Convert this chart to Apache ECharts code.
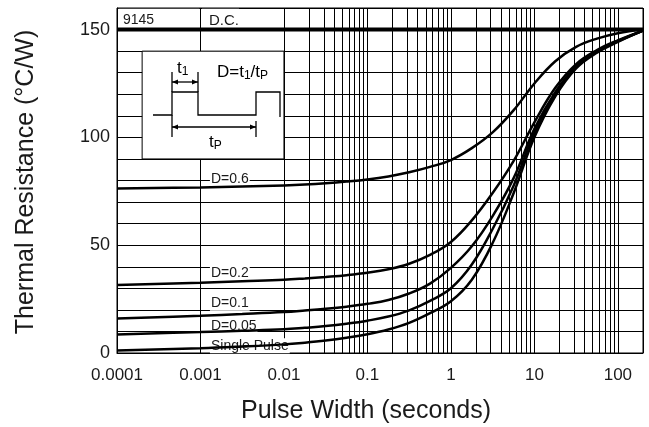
<!DOCTYPE html>
<html><head><meta charset="utf-8">
<script src="https://cdn.jsdelivr.net/npm/echarts@6/dist/echarts.min.js"></script>
<style>html,body{margin:0;padding:0;background:#fff}#c{width:649px;height:427px}</style>
</head><body><div id="c"></div>
<script>
// ---- data ----
const pulseWidth = [0.0001, 0.001, 0.00316, 0.01, 0.0178, 0.0316, 0.0562, 0.1, 0.178, 0.316, 0.562, 1, 1.78, 3.16, 5.62, 10, 17.8, 31.6, 56.2, 100, 200];
const duty06     = [76.3, 76.8, 77.2, 77.7, 78.1, 78.7, 79.5, 80.5, 81.9, 83.8, 86.3, 89.5, 95, 102.3, 112.5, 125, 135.3, 142, 145.8, 148.3, 150];
const duty02     = [31.5, 32.6, 33.3, 34, 34.6, 35.3, 36.1, 37.2, 38.8, 41.4, 45.5, 51.5, 61.5, 74.2, 89, 107, 123, 134, 140.5, 145, 149.5];
const duty01     = [16, 17.3, 18.1, 19, 19.7, 20.5, 21.5, 22.8, 24.6, 27.6, 32.2, 39.5, 49.5, 63.5, 81, 104, 121, 133, 140, 144.7, 149.5];
const duty005    = [8.6, 9.7, 10.3, 11, 11.7, 12.5, 13.6, 15, 16.9, 19.8, 24.2, 30, 41, 57.5, 77.5, 102, 120, 132.5, 139.7, 144.5, 149.5];
const singlePulse= [1.2, 2.2, 3, 4, 4.8, 5.8, 7.1, 8.7, 10.9, 14, 18.5, 24, 34, 51, 74, 100, 119, 132, 139.3, 144.3, 149.5];
const dutyDCx    = [0.0001, 200];
const dutyDC     = [150, 150];
const xDecades   = [0.0001, 0.001, 0.01, 0.1, 1, 10, 100];
const xTickLabels= ['0.0001', '0.001', '0.01', '0.1', '1', '10', '100'];
const yTickLabels= [0, 50, 100, 150];
const minorMult  = [2, 3, 4, 5, 6, 7, 8, 9];
const curveNames = ['D=0.6', 'D=0.2', 'D=0.1', 'D=0.05', 'Single Pulse'];
// annotation anchors (data coordinates)
const labelAnchorX = 0.00128;
const labelAnchorY = [80.6, 37.1, 23.1, 12.4, 3.4];

const FONT = "'Liberation Sans', Arial, Helvetica, sans-serif";
const TXT = '#1a1a1a';

const chart = echarts.init(document.getElementById('c'), null, {renderer: 'canvas'});

const minorLines = [];
xDecades.forEach(d => minorMult.forEach(m => { const v = d * m; if (v < 200) minorLines.push({xAxis: v}); }));

function pairs(xs, ys) { return xs.map((x, i) => [x, ys[i]]); }

const curveSets = [duty06, duty02, duty01, duty005, singlePulse];
const curveSeries = curveSets.map((ys, i) => ({
  type: 'line', name: curveNames[i], data: pairs(pulseWidth, ys),
  symbol: 'none', smooth: 0.4, z: 5,
  lineStyle: {color: '#000', width: 2.5}, silent: true
}));

const sub = {fontSize: 12, fontFamily: FONT, color: TXT, padding: [7, 0, 0, 0]};
const main17 = {fontSize: 17, fontFamily: FONT, color: TXT};

chart.setOption({
  animation: false,
  grid: {left: 117, right: 6, top: 8, bottom: 74, show: true, borderColor: '#000', borderWidth: 1, backgroundColor: '#fff'},
  xAxis: {
    type: 'log', logBase: 10, min: 0.0001, max: 200,
    axisLine: {show: true, lineStyle: {color: '#000', width: 1}},
    axisTick: {show: false},
    splitLine: {show: true, lineStyle: {color: '#000', width: 1}},
    minorTick: {show: false}, minorSplitLine: {show: false},
    axisLabel: {
      margin: 14, fontSize: 17, fontFamily: FONT, color: TXT,
      formatter: v => {
        const idx = xDecades.findIndex(d => Math.abs(Math.log10(v) - Math.log10(d)) < 1e-6);
        return idx >= 0 ? xTickLabels[idx] : '';
      }
    }
  },
  yAxis: {
    type: 'value', min: 0, max: 160, interval: 10,
    axisLine: {show: true, lineStyle: {color: '#000', width: 1}},
    axisTick: {show: false},
    splitLine: {show: true, lineStyle: {color: '#000', width: 1}},
    axisLabel: {
      margin: 7, fontSize: 18, fontFamily: FONT, color: TXT,
      formatter: v => yTickLabels.includes(v) ? String(v) : ''
    }
  },
  series: [
    { // minor vertical grid lines
      type: 'line', data: [[0.0001, -10]], symbol: 'none', lineStyle: {width: 0}, z: 1, silent: true,
      markLine: {silent: true, symbol: ['none', 'none'], label: {show: false}, animation: false,
        lineStyle: {color: '#000', width: 1, type: 'solid'}, data: minorLines}
    },
    { // white boxes (inset frame, top labels)
      type: 'line', data: [[0.0001, -10]], symbol: 'none', lineStyle: {width: 0}, z: 3, silent: true,
      markArea: {silent: true, label: {show: false}, data: [
        [{coord: [0.0002, 90], itemStyle: {color: '#fff', borderColor: '#000', borderWidth: 1}}, {coord: [0.01, 140]}],
        [{coord: [0.000104, 151.4], itemStyle: {color: '#fff', borderWidth: 0}}, {coord: [0.00097, 159.7]}],
        [{coord: [0.00104, 151.4], itemStyle: {color: '#fff', borderWidth: 0}}, {coord: [0.0029, 159.7]}]
      ]}
    },
    { // D.C.
      type: 'line', name: 'D.C.', data: pairs(dutyDCx, dutyDC), symbol: 'none', z: 5, silent: true,
      lineStyle: {color: '#000', width: 4}
    },
    ...curveSeries,
    { // curve labels
      type: 'line', data: [[0.0001, -10]], symbol: 'none', lineStyle: {width: 0}, z: 8, silent: true,
      markPoint: {silent: true, symbol: 'circle', symbolSize: 1, itemStyle: {color: 'rgba(0,0,0,0)'},
        data: curveNames.map((n, i) => ({
          coord: [labelAnchorX, labelAnchorY[i]],
          label: {show: true, position: 'right', distance: 0, formatter: n, fontSize: 14, fontFamily: FONT,
            color: TXT, backgroundColor: '#fff', padding: [1, 1, 0, 1]}
        }))}
    }
  ],
  graphic: [
    {type: 'text', x: 123, y: 20, z: 100, style: {text: '9145', fontSize: 14, fontFamily: FONT, fill: TXT, verticalAlign: 'middle'}},
    {type: 'text', x: 209, y: 21, z: 100, style: {text: 'D.C.', fontSize: 15, fontFamily: FONT, fill: TXT, verticalAlign: 'middle'}},
    // pulse diagram
    {type: 'polyline', z: 100, shape: {points: [[153,115],[172,115],[172,92],[198,92],[198,115],[256,115],[256,92],[280,92],[280,117]]},
      style: {stroke: '#000', lineWidth: 1.3, fill: null}},
    {type: 'line', z: 100, shape: {x1: 172, y1: 72, x2: 172, y2: 92}, style: {stroke: '#000', lineWidth: 1.3}},
    {type: 'line', z: 100, shape: {x1: 198, y1: 72, x2: 198, y2: 92}, style: {stroke: '#000', lineWidth: 1.3}},
    {type: 'line', z: 100, shape: {x1: 172, y1: 82, x2: 198, y2: 82}, style: {stroke: '#000', lineWidth: 1.3}},
    {type: 'polygon', z: 100, shape: {points: [[172,82],[178,79.5],[178,84.5]]}, style: {fill: '#000'}},
    {type: 'polygon', z: 100, shape: {points: [[198,82],[192,79.5],[192,84.5]]}, style: {fill: '#000'}},
    {type: 'line', z: 100, shape: {x1: 172, y1: 115, x2: 172, y2: 137}, style: {stroke: '#000', lineWidth: 1.3}},
    {type: 'line', z: 100, shape: {x1: 256, y1: 121, x2: 256, y2: 137}, style: {stroke: '#000', lineWidth: 1.3}},
    {type: 'line', z: 100, shape: {x1: 172, y1: 127, x2: 256, y2: 127}, style: {stroke: '#000', lineWidth: 1.3}},
    {type: 'polygon', z: 100, shape: {points: [[172,127],[178,124.5],[178,129.5]]}, style: {fill: '#000'}},
    {type: 'polygon', z: 100, shape: {points: [[256,127],[250,124.5],[250,129.5]]}, style: {fill: '#000'}},
    {type: 'text', x: 177, y: 68, z: 100, style: {text: '{a|t}{b|1}', verticalAlign: 'middle', rich: {a: main17, b: sub}}},
    {type: 'text', x: 217, y: 72, z: 100, style: {text: '{a|D=t}{b|1}{a|/t}{b|P}', verticalAlign: 'middle', rich: {a: main17, b: sub}}},
    {type: 'text', x: 209, y: 142, z: 100, style: {text: '{a|t}{b|P}', verticalAlign: 'middle', rich: {a: main17, b: sub}}},
    // axis titles
    {type: 'text', x: 26, y: 182, rotation: Math.PI / 2, z: 100,
      style: {text: 'Thermal Resistance (°C/W)', fontSize: 25, fontFamily: FONT, fill: TXT, align: 'center', verticalAlign: 'middle'}},
    {type: 'text', x: 366, y: 411, z: 100,
      style: {text: 'Pulse Width (seconds)', fontSize: 25, fontFamily: FONT, fill: TXT, align: 'center', verticalAlign: 'middle'}}
  ]
});
</script></body></html>
